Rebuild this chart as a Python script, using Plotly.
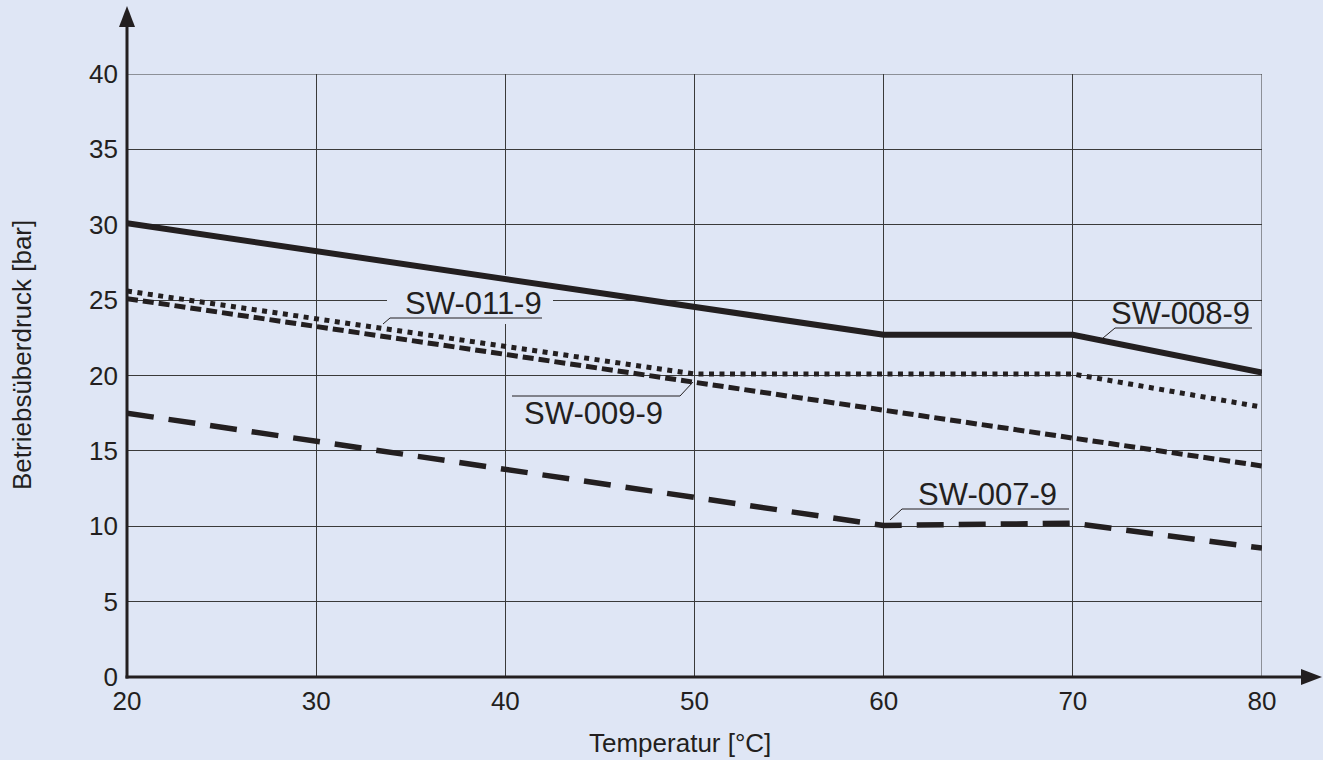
import plotly.graph_objects as go

# ---------------- data ----------------
temp_008 = [20, 60, 70, 80]
druck_008 = [30.1, 22.7, 22.7, 20.2]

temp_011 = [20, 50, 70, 80]
druck_011 = [25.6, 20.1, 20.1, 17.9]

temp_009 = [20, 80]
druck_009 = [25.1, 14.0]

temp_007 = [20, 60, 70, 80]
druck_007 = [17.5, 10.05, 10.2, 8.55]

x_ticks = [20, 30, 40, 50, 60, 70, 80]
y_ticks = [0, 5, 10, 15, 20, 25, 30, 35, 40]

x_title = "Temperatur [°C]"
y_title = "Betriebsüberdruck [bar]"

# ---------------- layout geometry ----------------
W, H = 1323, 760
L, R, T, B = 127, 1262, 74, 677
X0, X1, Y0, Y1 = 20, 80, 0, 40

def dx(px):
    return X0 + (px - L) * (X1 - X0) / (R - L)

def dy(py):
    return Y0 + (B - py) * (Y1 - Y0) / (B - T)

def px_paper(px):
    return (px - L) / (R - L)

def py_paper(py):
    return (B - py) / (B - T)

BG = "#dfe6f5"
INK = "#231f20"
GRID = "#3a3a3a"
FONT = "Liberation Sans, Arial, sans-serif"

fig = go.Figure()

fig.add_trace(go.Scatter(x=temp_009, y=druck_009, mode="lines", name="SW-009-9",
                         line=dict(color=INK, width=5, dash="11px,5px")))
fig.add_trace(go.Scatter(x=temp_011, y=druck_011, mode="lines", name="SW-011-9",
                         line=dict(color=INK, width=5, dash="5px,5.5px")))
fig.add_trace(go.Scatter(x=temp_007, y=druck_007, mode="lines", name="SW-007-9",
                         line=dict(color=INK, width=5.5, dash="27px,15px")))
fig.add_trace(go.Scatter(x=temp_008, y=druck_008, mode="lines", name="SW-008-9",
                         line=dict(color=INK, width=6, dash="solid")))

shapes = []
# outer gridlines at the range edges (x = 80, y = 40)
shapes.append(dict(type="line", xref="x", yref="y", layer="between",
                   x0=X1, x1=X1, y0=Y0, y1=Y1, line=dict(color=GRID, width=1)))
shapes.append(dict(type="line", xref="x", yref="y", layer="between",
                   x0=X0, x1=X1, y0=Y1, y1=Y1, line=dict(color=GRID, width=1)))

# mask behind SW-011-9 label (hides gridlines only)
shapes.append(dict(type="rect", xref="x", yref="y", layer="between",
                   x0=dx(387), x1=dx(553), y0=dy(324), y1=dy(275),
                   fillcolor=BG, line=dict(width=0)))

# leader lines (underline + short diagonal)
leaders = [
    # (underline x0, x1, y, diag end x, diag end y) in px
    (390, 542, 318, 383, 324),    # SW-011-9
    (512, 680, 396, 693, 382),    # SW-009-9
    (1115, 1252, 328, 1103, 338), # SW-008-9
    (902, 1069, 509, 890, 520),   # SW-007-9
]
for ux0, ux1, uy, ex, ey in leaders:
    shapes.append(dict(type="line", xref="x", yref="y", layer="above",
                       x0=dx(ux0), x1=dx(ux1), y0=dy(uy), y1=dy(uy),
                       line=dict(color=INK, width=1)))
    sx = ux0 if abs(ex - ux0) < abs(ex - ux1) else ux1
    shapes.append(dict(type="line", xref="x", yref="y", layer="above",
                       x0=dx(sx), x1=dx(ex), y0=dy(uy), y1=dy(ey),
                       line=dict(color=INK, width=1)))

# axis lines with arrows
shapes.append(dict(type="line", xref="paper", yref="paper", layer="above",
                   x0=px_paper(L - 1.5), x1=px_paper(1306), y0=0, y1=0,
                   line=dict(color=INK, width=3)))
shapes.append(dict(type="line", xref="paper", yref="paper", layer="above",
                   x0=0, x1=0, y0=py_paper(B + 1.5), y1=py_paper(22),
                   line=dict(color=INK, width=3)))
shapes.append(dict(type="path", xref="paper", yref="paper", layer="above",
                   path=f"M {px_paper(L)} {py_paper(6)} L {px_paper(L-8)} {py_paper(27)} "
                        f"L {px_paper(L+8)} {py_paper(27)} Z",
                   fillcolor=INK, line=dict(color=INK, width=0)))
shapes.append(dict(type="path", xref="paper", yref="paper", layer="above",
                   path=f"M {px_paper(1322)} {py_paper(B)} L {px_paper(1301)} {py_paper(B-8)} "
                        f"L {px_paper(1301)} {py_paper(B+8)} Z",
                   fillcolor=INK, line=dict(color=INK, width=0)))

annotations = []
labels = [
    ("SW-011-9", 473.5, 303.5),
    ("SW-009-9", 593.5, 413.5),
    ("SW-008-9", 1180.5, 313.5),
    ("SW-007-9", 987, 494.5),
]
for txt, cx, cy in labels:
    annotations.append(dict(text=txt, x=dx(cx), y=dy(cy), xref="x", yref="y",
                            showarrow=False, xanchor="center", yanchor="middle",
                            font=dict(family=FONT, size=31, color=INK)))

annotations.append(dict(text=x_title, x=px_paper(680), y=py_paper(743),
                        xref="paper", yref="paper", showarrow=False,
                        xanchor="center", yanchor="middle",
                        font=dict(family=FONT, size=26, color=INK)))
annotations.append(dict(text=y_title, x=px_paper(22), y=py_paper(355),
                        xref="paper", yref="paper", showarrow=False, textangle=-90,
                        xanchor="center", yanchor="middle",
                        font=dict(family=FONT, size=26, color=INK)))

fig.update_layout(
    width=W, height=H,
    margin=dict(l=L, r=W - R, t=T, b=H - B, pad=0),
    paper_bgcolor=BG, plot_bgcolor=BG,
    showlegend=False,
    shapes=shapes,
    annotations=annotations,
    font=dict(family=FONT, size=26, color=INK),
)
fig.update_xaxes(range=[X0, X1], tickvals=x_ticks, ticktext=[str(v) for v in x_ticks],
                 showgrid=True, gridcolor=GRID, gridwidth=1,
                 zeroline=False, showline=False, ticks="", ticklabelstandoff=6,
                 tickfont=dict(family=FONT, size=26, color=INK))
fig.update_yaxes(range=[Y0, Y1], tickvals=y_ticks, ticktext=[str(v) for v in y_ticks],
                 showgrid=True, gridcolor=GRID, gridwidth=1,
                 zeroline=False, showline=False, ticks="", ticklabelstandoff=8,
                 tickfont=dict(family=FONT, size=26, color=INK))

fig.write_html("out.html", config={"displayModeBar": False},
               post_script="document.body.style.margin='0';document.body.style.background='" + BG + "';")
